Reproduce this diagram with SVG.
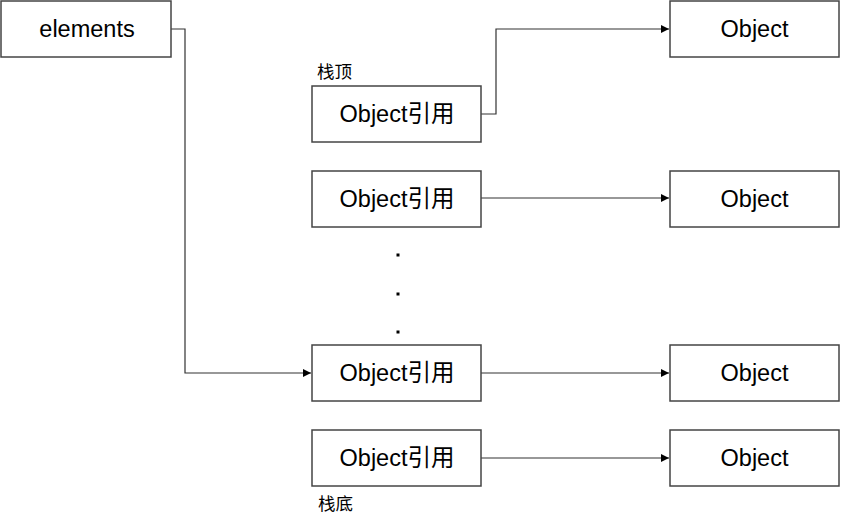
<svg xmlns="http://www.w3.org/2000/svg" width="841" height="523" viewBox="0 0 841 523">
<defs>
<style>
.box{fill:#fff;stroke:#444;stroke-width:1.5}
.t{font-family:"Liberation Sans","Noto Sans CJK SC",sans-serif;font-size:23.5px;fill:#000;text-anchor:middle}
.s{font-family:"Noto Sans CJK SC","Liberation Sans",sans-serif;font-size:17.5px;fill:#000}
.c{fill:none;stroke:#333;stroke-width:1.2}
</style>
<marker id="a" viewBox="0 0 10 10" refX="10" refY="5" markerWidth="9" markerHeight="8" markerUnits="userSpaceOnUse" orient="auto"><path d="M0,0L10,5L0,10z" fill="#000"/></marker>
</defs>
<rect width="841" height="523" fill="#fff"/>
<g id="connectors">
<path class="c" d="M171,29H185V373H311" marker-end="url(#a)"/>
<path class="c" d="M481,114H496V29H669" marker-end="url(#a)"/>
<path class="c" d="M481,198H669" marker-end="url(#a)"/>
<path class="c" d="M481,373H669" marker-end="url(#a)"/>
<path class="c" d="M481,458H669" marker-end="url(#a)"/>
</g>
<g id="elements"><rect class="box" x="1" y="1" width="170" height="56"/><text class="t" x="87" y="37">elements</text></g>
<g id="ref1"><rect class="box" x="312" y="86" width="169" height="56"/><text class="t" x="397" y="122">Object引用</text></g>
<g id="ref2"><rect class="box" x="312" y="171" width="169" height="56"/><text class="t" x="397" y="207">Object引用</text></g>
<g id="ref3"><rect class="box" x="312" y="345" width="169" height="56"/><text class="t" x="397" y="381">Object引用</text></g>
<g id="ref4"><rect class="box" x="312" y="430" width="169" height="56"/><text class="t" x="397" y="466">Object引用</text></g>
<g id="obj1"><rect class="box" x="670" y="1" width="169" height="56"/><text class="t" x="754.5" y="37">Object</text></g>
<g id="obj2"><rect class="box" x="670" y="171" width="169" height="56"/><text class="t" x="754.5" y="207">Object</text></g>
<g id="obj3"><rect class="box" x="670" y="345" width="169" height="56"/><text class="t" x="754.5" y="381">Object</text></g>
<g id="obj4"><rect class="box" x="670" y="430" width="169" height="56"/><text class="t" x="754.5" y="466">Object</text></g>
<g id="labels">
<text class="s" x="317" y="78">栈顶</text>
<text class="s" x="318" y="510">栈底</text>
<rect x="396.5" y="253.5" width="3" height="3" fill="#000"/>
<rect x="396.5" y="292.5" width="3" height="3" fill="#000"/>
<rect x="396.5" y="330.5" width="3" height="3" fill="#000"/>
</g>
</svg>
